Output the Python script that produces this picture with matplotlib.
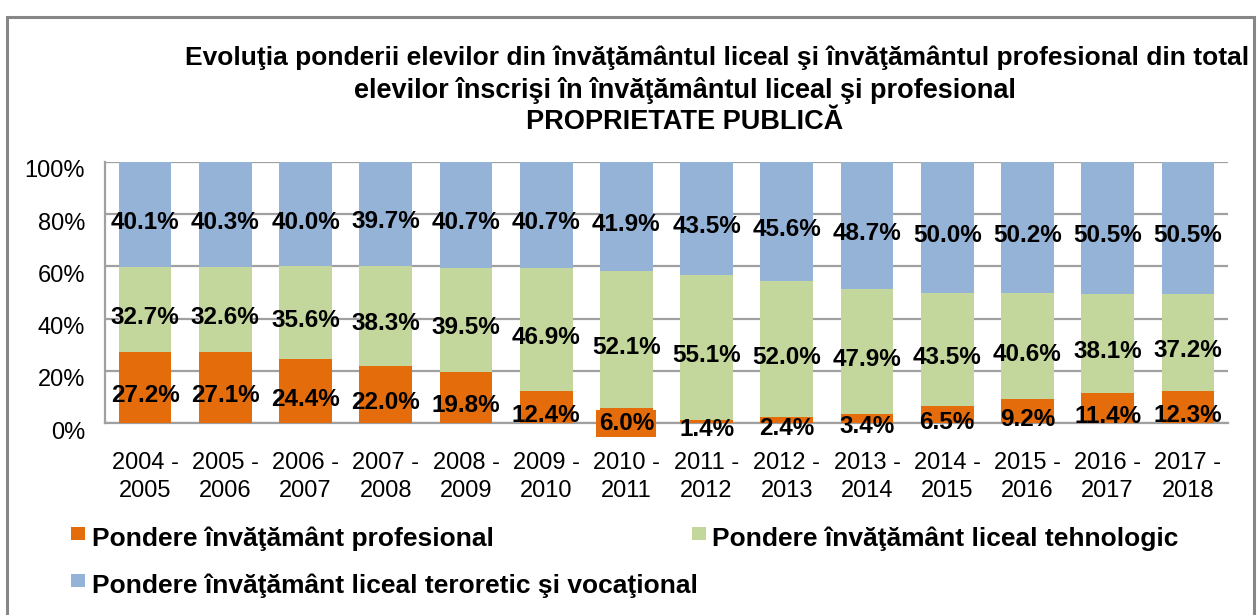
import matplotlib
matplotlib.use('Agg')
import matplotlib.pyplot as plt
from matplotlib.patches import Rectangle
import matplotlib.transforms as mtransforms
import numpy as np

# ---------------- data ----------------
categories = ['2004 -\n2005', '2005 -\n2006', '2006 -\n2007', '2007 -\n2008',
              '2008 -\n2009', '2009 -\n2010', '2010 -\n2011', '2011 -\n2012',
              '2012 -\n2013', '2013 -\n2014', '2014 -\n2015', '2015 -\n2016',
              '2016 -\n2017', '2017 -\n2018']
profesional = [27.2, 27.1, 24.4, 22.0, 19.8, 12.4, 6.0, 1.4, 2.4, 3.4, 6.5, 9.2, 11.4, 12.3]
tehnologic = [32.7, 32.6, 35.6, 38.3, 39.5, 46.9, 52.1, 55.1, 52.0, 47.9, 43.5, 40.6, 38.1, 37.2]
teoretic = [40.1, 40.3, 40.0, 39.7, 40.7, 40.7, 41.9, 43.5, 45.6, 48.7, 50.0, 50.2, 50.5, 50.5]
series_names = ['Pondere învăţământ profesional',
                'Pondere învăţământ liceal tehnologic',
                'Pondere învăţământ liceal teroretic şi vocaţional']
title_lines = ['Evoluţia ponderii elevilor din învăţământul liceal şi învăţământul profesional din total',
               'elevilor înscrişi în învăţământul liceal şi profesional',
               'PROPRIETATE PUBLICĂ']
yticks = [0, 20, 40, 60, 80, 100]
ytick_labels = ['0%', '20%', '40%', '60%', '80%', '100%']

# ---------------- style ----------------
colors = ['#E46C0A', '#C3D69B', '#95B3D7']
plt.rcParams['font.family'] = ['Liberation Sans', 'DejaVu Sans']
W, H = 1259, 615
fig = plt.figure(figsize=(W / 100, H / 100), dpi=100)


def fx(px):
    return px / W


def fy(py):
    return 1 - py / H


# outer chart border
fig.patches.append(Rectangle((fx(7), fy(640)), fx(1254) - fx(7), fy(17) - fy(640),
                             transform=fig.transFigure, fill=False,
                             edgecolor='#878787', linewidth=2.2, zorder=0))

ax_left, ax_right, ax_top, ax_bottom = 105, 1228, 161.7, 423.3
ax = fig.add_axes([fx(ax_left), fy(ax_bottom), fx(ax_right) - fx(ax_left), fy(ax_top) - fy(ax_bottom)])

x = np.arange(len(categories))
bottom = np.zeros(len(categories))
for vals, color, name in zip([profesional, tehnologic, teoretic], colors, series_names):
    vals = np.array(vals, dtype=float)
    ax.bar(x, vals, 0.657, bottom=bottom, color=color, zorder=2, label=name)
    for xi, b, v, cat in zip(x, bottom, vals, categories):
        box = None
        if name == series_names[0] and cat == '2010 -\n2011':
            box = dict(boxstyle='square,pad=0.1', fc=color, ec='none')
        ax.annotate(f'{v:.1f}%', (xi, b + v / 2), xytext=(0, -8), textcoords='offset pixels',
                    ha='center', va='center', fontsize=17.5, fontweight='bold',
                    color='black', bbox=box, zorder=5)
    bottom += vals

ax.set_xlim(-0.5, len(categories) - 0.5)
ax.set_ylim(0, 100)
ax.set_yticks(yticks)
ax.set_yticklabels(ytick_labels, fontsize=17)
ax.set_xticks(x)
ax.set_xticklabels(categories, fontsize=17, linespacing=1.35)
ax.tick_params(axis='both', length=0)
ax.tick_params(axis='y', pad=14.4)
ax.tick_params(axis='x', pad=21.0)
ax.grid(axis='y', color='#A0A0A0', linewidth=1.6, zorder=1)
ax.set_axisbelow(True)
for s in ['top', 'right']:
    ax.spines[s].set_visible(False)
for s in ['left', 'bottom']:
    ax.spines[s].set_color('#A0A0A0')
    ax.spines[s].set_linewidth(1.6)
    ax.spines[s].set_zorder(1)

off = mtransforms.ScaledTranslation(0, -7 / 100, fig.dpi_scale_trans)
for lab in ax.get_yticklabels():
    lab.set_transform(lab.get_transform() + off)

# title
fig.text(fx(717), fy(58), title_lines[0], ha='center', va='center', fontsize=19, fontweight='bold')
fig.text(fx(685), fy(90), title_lines[1], ha='center', va='center', fontsize=19.5, fontweight='bold')
fig.text(fx(685), fy(122), title_lines[2], ha='center', va='center', fontsize=19.5, fontweight='bold')

# legend (manual layout)
legend_pos = [(71, 527, 92, 546), (692, 527, 712, 546), (71, 574, 92, 593)]
for (mx, my, tx, ty), color, name in zip(legend_pos, colors, series_names):
    fig.patches.append(Rectangle((fx(mx), fy(my + 13)), fx(14), 13 / H,
                                 transform=fig.transFigure, facecolor=color, edgecolor='none'))
    fig.text(fx(tx), fy(ty), name, ha='left', va='baseline', fontsize=19, fontweight='bold')

fig.savefig('out.png', dpi=100)
